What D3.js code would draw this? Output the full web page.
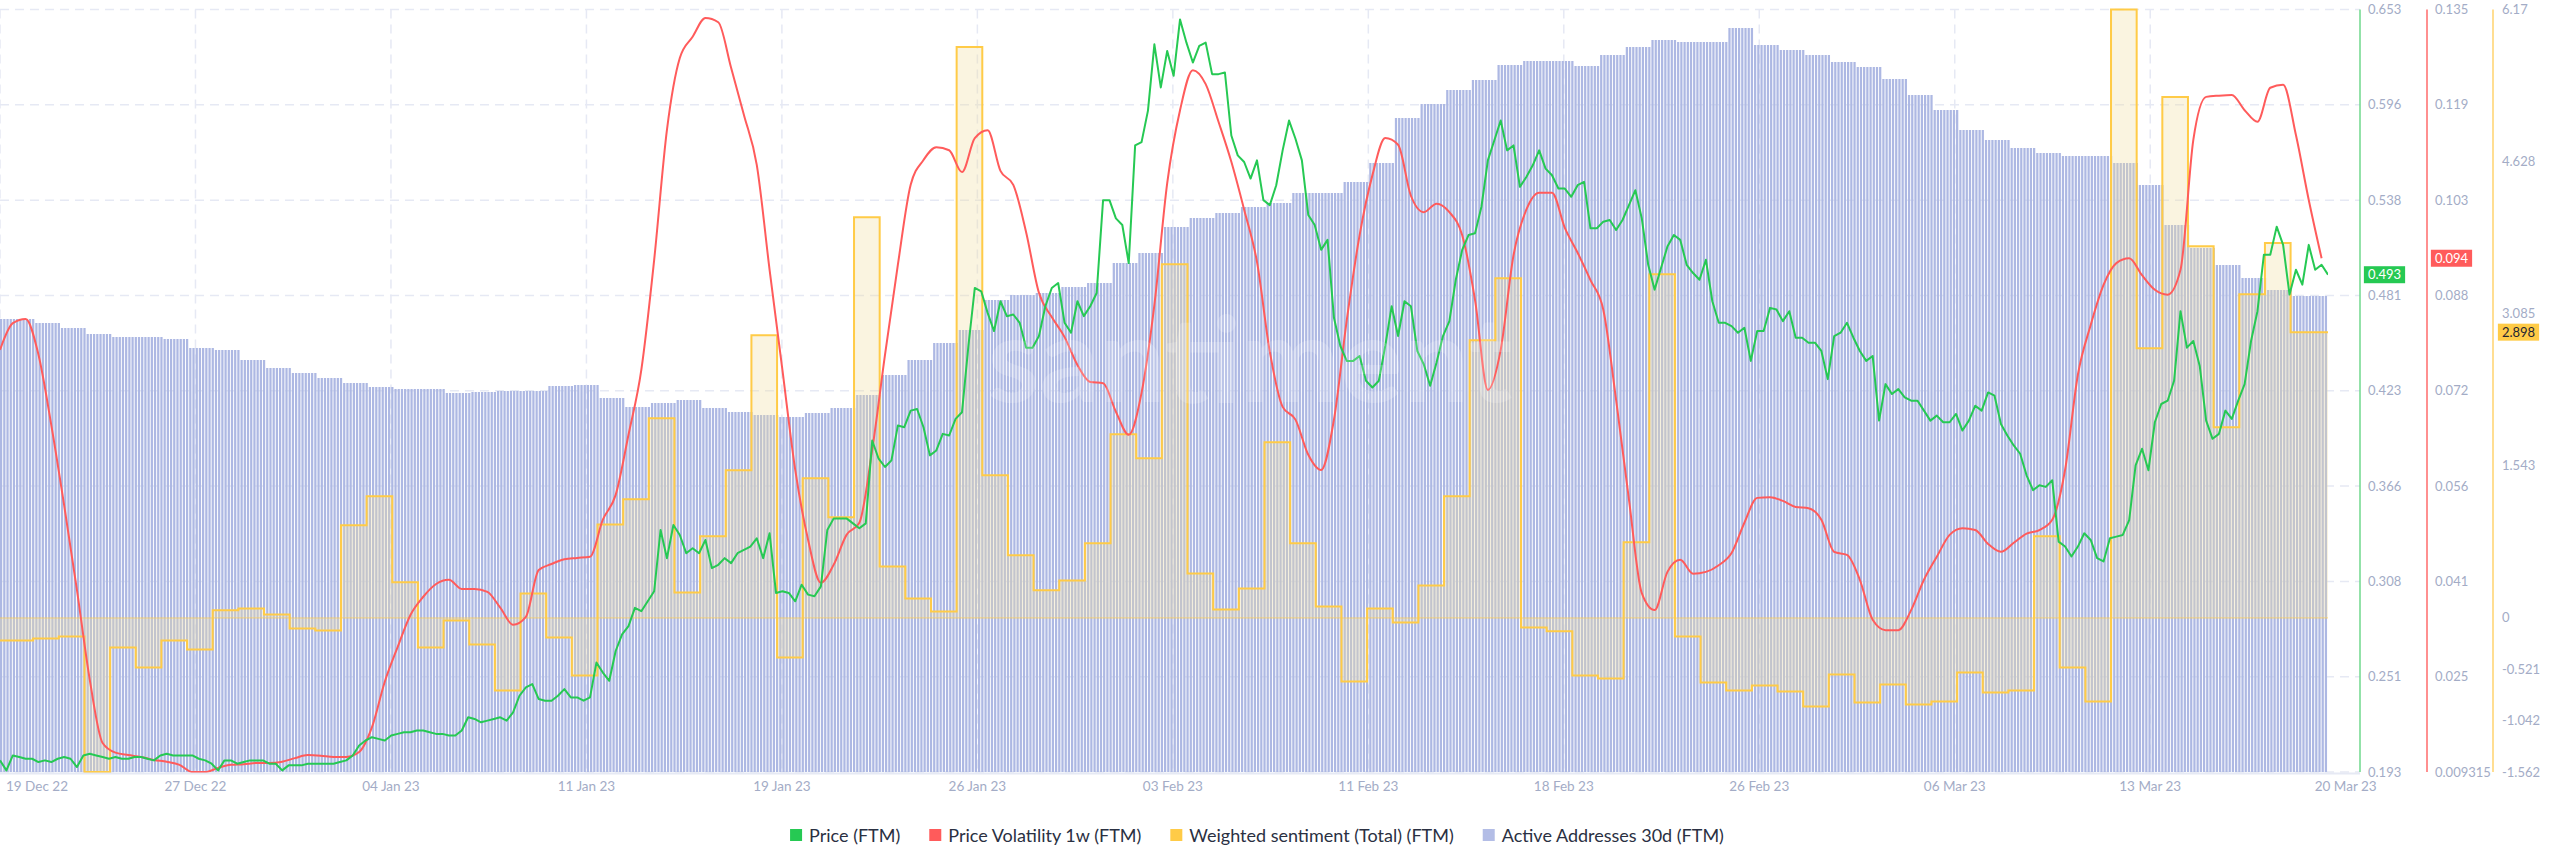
<!DOCTYPE html>
<html><head><meta charset="utf-8">
<script src="https://cdn.jsdelivr.net/npm/d3@7"></script>
<style>
html,body{margin:0;padding:0;background:#fff;}
svg{display:block;font-family:Lato,"Open Sans",sans-serif;}
</style></head><body>
<svg id="chart" width="2560" height="867"></svg>
<script>
// ---------------- DATA ----------------
const startTime = Date.UTC(2022, 11, 18, 17);   // first point of the 6h price series
const firstDay = Date.UTC(2022, 11, 18);         // first day of the daily series
const HOUR = 3600 * 1000, DAY = 24 * HOUR;
const priceStepHours = 6;
const volStepHours = 12;
const barStepHours = 3;
const labelStepDays = 7.62;

const xTickLabels = ["19 Dec 22","27 Dec 22","04 Jan 23","11 Jan 23","19 Jan 23","26 Jan 23","03 Feb 23",
  "11 Feb 23","18 Feb 23","26 Feb 23","06 Mar 23","13 Mar 23","20 Mar 23"];

const priceValues = [
0.200,0.194,0.203,0.202,0.201,0.201,0.199,0.200,0.199,0.201,
0.202,0.201,0.196,0.203,0.204,0.203,0.202,0.201,0.202,0.201,
0.201,0.202,0.202,0.201,0.200,0.203,0.204,0.203,0.203,0.203,
0.203,0.201,0.200,0.198,0.194,0.200,0.200,0.198,0.199,0.200,
0.200,0.200,0.198,0.198,0.194,0.197,0.197,0.197,0.198,0.198,
0.198,0.198,0.198,0.199,0.200,0.203,0.209,0.212,0.214,0.213,
0.212,0.215,0.216,0.217,0.217,0.218,0.218,0.217,0.216,0.216,
0.215,0.215,0.218,0.226,0.225,0.223,0.224,0.225,0.226,0.224,
0.229,0.239,0.244,0.246,0.237,0.236,0.236,0.239,0.243,0.238,
0.238,0.236,0.238,0.259,0.253,0.248,0.266,0.276,0.281,0.292,
0.290,0.296,
0.302,0.339,0.322,0.342,0.336,0.325,0.328,0.325,0.333,
0.316,0.318,0.322,0.319,0.325,0.327,0.329,0.334,0.322,0.337,
0.301,0.302,0.301,0.296,0.306,0.300,0.299,0.305,0.339,0.346,
0.346,0.346,0.343,0.340,0.343,0.393,0.382,0.377,0.381,0.402,
0.401,0.411,0.412,0.401,0.384,0.387,0.397,0.396,0.406,0.410,
0.450,0.485,0.483,0.470,0.459,0.477,0.468,0.469,0.464,0.449,
0.449,0.456,0.474,0.485,0.488,0.464,0.458,0.477,0.468,0.474,
0.482,0.538,0.538,0.527,0.523,0.500,0.571,0.573,0.592,0.632,
0.606,0.628,0.613,0.647,0.633,0.621,0.631,0.633,0.614,0.614,
0.615,0.577,0.565,0.561,0.551,0.562,0.538,0.535,0.547,0.568,
0.586,0.575,0.562,0.529,0.523,0.508,0.514,0.467,0.450,0.441,
0.441,0.444,0.429,0.425,0.429,0.450,0.474,0.456,0.477,0.474,
0.447,0.439,0.426,0.440,0.456,0.465,0.490,0.508,0.517,0.518,
0.534,0.562,0.574,0.586,0.568,0.571,0.546,0.552,0.559,0.568,
0.557,0.553,0.545,0.545,0.540,0.547,0.549,0.521,0.521,0.525,
0.526,0.520,0.526,0.535,0.544,0.527,0.499,0.484,0.497,0.510,
0.517,0.514,0.499,0.494,0.490,0.502,0.477,0.464,0.464,0.462,
0.458,0.461,0.441,0.459,0.459,0.473,0.472,0.465,0.471,0.455,
0.455,0.452,0.452,0.447,0.430,0.456,0.458,0.464,0.455,0.447,
0.441,0.444,0.405,0.427,0.421,0.424,0.419,0.417,0.417,0.411,
0.405,0.408,
0.404,0.404,0.409,0.399,0.405,0.414,0.411,0.422,0.420,
0.403,0.396,0.390,0.385,0.372,0.363,0.366,0.365,0.369,0.332,
0.329,0.323,0.329,0.337,0.333,0.322,0.320,0.334,0.335,0.336,
0.345,0.378,0.388,0.375,0.404,0.415,0.417,0.429,0.471,0.449,
0.453,0.438,0.405,0.394,0.397,0.411,0.406,0.417,0.427,0.453,
0.471,0.505,0.505,0.522,0.511,0.481,0.496,0.487,0.511,0.496,
0.499,0.493];

const volatilityValues = [
0.0789,0.0833,0.0840,0.0781,0.0665,0.0533,0.0393,0.0245,0.0141,0.0125,
0.0121,0.0118,0.0113,0.0110,0.0105,0.0093,0.0093,0.0100,0.0105,0.0106,
0.0108,0.0108,0.0110,0.0116,0.0121,0.0120,0.0118,0.0118,0.0126,0.0167,
0.0242,0.0299,0.0352,0.0382,0.0403,0.0410,0.0395,0.0395,0.0390,0.0364,
0.0336,0.0349,0.0426,0.0436,0.0444,0.0446,0.0448,0.0509,0.0550,0.0649,
0.0756,0.0937,0.1152,0.1270,0.1305,0.1336,0.1329,0.1254,0.1176,0.1094,
0.0921,0.0756,0.0591,0.0476,0.0405,0.0435,0.0484,0.0504,0.0624,0.0781,
0.0929,0.1061,0.1102,0.1123,0.1118,0.1082,0.1138,0.1151,0.1084,0.1061,
0.0983,0.0883,0.0843,0.0810,0.0764,0.0736,0.0734,0.0687,0.0649,0.0718,
0.0863,0.1064,0.1184,0.1250,0.1227,0.1165,0.1099,0.1020,0.0934,0.0786,
0.0695,
0.0674,0.0616,0.0591,0.0674,0.0838,0.0978,0.1077,0.1138,0.1127,0.1043,
0.1016,0.1030,0.1016,0.0978,0.0871,0.0723,0.0789,0.0945,0.1020,0.1048,
0.1048,0.0990,0.0949,0.0904,0.0855,0.0706,0.0542,0.0388,0.0360,0.0423,
0.0443,0.0420,0.0423,0.0434,0.0454,0.0504,0.0545,0.0546,0.0540,0.0530,
0.0528,0.0509,0.0456,0.0451,0.0410,0.0344,0.0327,0.0327,0.0360,0.0410,
0.0448,0.0484,0.0495,0.0492,0.0469,0.0456,0.0471,0.0486,0.0492,0.0509,
0.0591,0.0748,0.0830,0.0896,0.0932,0.0940,0.0912,0.0888,0.0880,0.0921,
0.1135,0.1206,0.1208,0.1209,0.1184,0.1165,0.1221,0.1226,0.1143,0.1036,0.094];

// daily, from 18 Dec 2022 to 20 Mar 2023
const sentimentValues = [
-0.228,-0.228,-0.207,-0.187,-1.562,-0.299,-0.502,-0.228,-0.319,0.077,
0.097,0.036,-0.106,-0.126,0.939,1.233,0.361,-0.299,-0.025,-0.268,
-0.735,0.249,-0.197,-0.583,0.949,1.203,2.025,0.259,0.828,1.497,
2.867,-0.400,1.416,1.020,4.064,0.523,0.198,0.066,5.789,1.447,
0.635,0.280,0.381,0.757,1.862,1.619,3.588,0.452,0.087,0.300,
1.781,0.757,0.117,-0.644,0.097,-0.045,0.330,1.233,2.816,3.445,
-0.096,-0.136,-0.583,-0.613,0.767,3.486,-0.187,-0.654,-0.735,-0.684,
-0.745,-0.898,-0.573,-0.857,-0.674,-0.877,-0.847,-0.553,-0.755,-0.735,
0.828,-0.502,-0.847,6.17,2.735,5.282,3.770,1.934,3.283,3.801,
2.898,2.898];

// daily, from 18 Dec 2022 to 20 Mar 2023
const activeAddressesValues = [
90600,90600,89800,88800,87600,87000,87000,86600,84800,84400,
82400,80800,79800,78800,77800,77000,76600,76600,75800,76000,
76200,76200,77200,77400,74800,73000,73800,74400,72800,72000,
71400,71000,71800,72800,75400,79400,82400,85800,88400,94400,
95400,95800,97000,97800,101800,103800,109000,110800,111800,113000,
113800,115800,115800,118000,121800,130800,133600,136400,138400,141400,
142200,142200,141200,143400,145000,146400,146000,146000,148800,145400,
144400,143400,142000,141000,138600,135400,132400,128400,126400,124800,
123800,123200,123200,121800,117400,109400,104800,101400,98800,96400,
95200,95200];

const priceTickLabels = ["0.193","0.251","0.308","0.366","0.423","0.481","0.538","0.596","0.653"];
const volTickLabels = ["0.009315","0.025","0.041","0.056","0.072","0.088","0.103","0.119","0.135"];
const sentimentTicks = [-1.562,-1.042,-0.521,0,1.543,3.085,4.628,6.17];
const sentimentTickLabels = ["-1.562","-1.042","-0.521","0","1.543","3.085","4.628","6.17"];

const seriesNames = ["Price (FTM)","Price Volatility 1w (FTM)","Weighted sentiment (Total) (FTM)","Active Addresses 30d (FTM)"];
const seriesColors = ["#26c953","#ff5b5b","#ffcb47","#b3bde6"];

// ---------------- LAYOUT ----------------
const plotTop = 9.5, plotBottom = 772;
const plotRight = 2328;
const axisX = [2360, 2427, 2493];
const legendCenter = 1257;
const svg = d3.select("#chart");

const endTime = startTime + (priceValues.length - 1) * priceStepHours * HOUR;
const x = d3.scaleLinear().domain([startTime, endTime]).range([0, plotRight]);
const yPrice = d3.scaleLinear().domain([0.193, 0.653]).range([plotBottom, plotTop]);
const yVol = d3.scaleLinear().domain([0.009315, 0.135]).range([plotBottom, plotTop]);
const ySent = d3.scaleLinear().domain([-1.562, 6.17]).range([plotBottom, plotTop]);
const yAddr = d3.scaleLinear().domain([0, 152500]).range([plotBottom, plotTop]);

const priceData = priceValues.map((v, i) => ({t: startTime + i * priceStepHours * HOUR, v}));
const volData = volatilityValues.map((v, i) => ({t: startTime + i * volStepHours * HOUR, v}));
const sentData = sentimentValues.map((v, i) => ({t: firstDay + i * DAY, v}));
sentData.push({t: endTime, v: sentimentValues[sentimentValues.length - 1]});
const nBars = Math.floor((endTime - startTime) / (barStepHours * HOUR)) + 1;
const barData = d3.range(nBars).map(b => {
  const t = startTime + b * barStepHours * HOUR;
  const di = Math.min(activeAddressesValues.length - 1, Math.floor((t - firstDay) / DAY));
  return {t, v: activeAddressesValues[di]};
});

svg.append("defs").append("clipPath").attr("id", "plotclip")
  .append("rect").attr("x", 0).attr("y", 0).attr("width", plotRight).attr("height", plotBottom + 1);

// grid
const grid = svg.append("g");
const gridTicks = d3.range(9).map(i => 0.193 + i * (0.653 - 0.193) / 8);
grid.selectAll("line.h").data(gridTicks).join("line")
  .attr("x1", 0).attr("x2", axisX[0]).attr("y1", d => yPrice(d)).attr("y2", d => yPrice(d))
  .attr("stroke", "#e6e9f4").attr("stroke-width", 1.5).attr("stroke-dasharray", "9,6");
const labelTimes = xTickLabels.map((_, k) => startTime + k * labelStepDays * DAY);
grid.selectAll("line.v").data(labelTimes.slice(0, 12)).join("line")
  .attr("x1", d => x(d)).attr("x2", d => x(d)).attr("y1", plotTop).attr("y2", plotBottom)
  .attr("stroke", "#e6e9f4").attr("stroke-width", 1.5).attr("stroke-dasharray", "9,6");

const plot = svg.append("g").attr("clip-path", "url(#plotclip)");

// bars
const barW = (x(startTime + barStepHours * HOUR) - x(startTime)) * 0.7;
plot.append("g").selectAll("rect").data(barData).join("rect")
  .attr("x", d => x(d.t)).attr("y", d => yAddr(d.v))
  .attr("width", barW).attr("height", d => plotBottom - yAddr(d.v))
  .attr("fill", "#adb8e3");

// sentiment
plot.append("path").datum(sentData)
  .attr("d", d3.area().curve(d3.curveStepAfter).x(d => x(d.t)).y0(ySent(0)).y1(d => ySent(d.v)))
  .attr("fill", "rgba(240,220,160,0.32)");
plot.append("line").attr("x1", 0).attr("x2", plotRight).attr("y1", ySent(0)).attr("y2", ySent(0))
  .attr("stroke", "#ffcb47").attr("stroke-opacity", 0.7).attr("stroke-width", 1);
plot.append("path").datum(sentData)
  .attr("d", d3.line().curve(d3.curveStepAfter).x(d => x(d.t)).y(d => ySent(d.v)))
  .attr("fill", "none").attr("stroke", "#ffcb47").attr("stroke-width", 2);

// volatility
plot.append("path").datum(volData)
  .attr("d", d3.line().curve(d3.curveMonotoneX).x(d => x(d.t)).y(d => yVol(d.v)))
  .attr("fill", "none").attr("stroke", "#ff5b5b").attr("stroke-width", 2);

// price
plot.append("path").datum(priceData)
  .attr("d", d3.line().x(d => x(d.t)).y(d => yPrice(d.v)))
  .attr("fill", "none").attr("stroke", "#26c953").attr("stroke-width", 2).attr("stroke-linejoin", "round");

// watermark
svg.append("text").attr("x", 1250).attr("y", 402).attr("text-anchor", "middle")
  .attr("font-size", 118).attr("font-weight", 700).attr("fill", "#ffffff").attr("fill-opacity", 0.18)
  .text("santiment");

// bottom axis line
svg.append("line").attr("x1", 0).attr("x2", axisX[0]).attr("y1", plotBottom + 1.5).attr("y2", plotBottom + 1.5)
  .attr("stroke", "#e6e9f4").attr("stroke-width", 2);

// x labels
svg.append("g").selectAll("text").data(xTickLabels).join("text")
  .attr("x", (d, k) => k === 0 ? 6 : x(labelTimes[k]))
  .attr("y", 791)
  .attr("text-anchor", (d, k) => k === 0 ? "start" : "middle")
  .attr("font-size", 13.5).attr("fill", "#a3acc6").text(d => d);

// right axes
const axisColors = ["#6fd88c", "#ff6b6b", "#ffd36e"];
axisX.forEach((ax, i) => {
  svg.append("line").attr("x1", ax).attr("x2", ax).attr("y1", plotTop).attr("y2", plotBottom)
    .attr("stroke", axisColors[i]).attr("stroke-width", 1.5);
});
const axisLabel = (g, xs, ys, txt) => g.append("text").attr("x", xs).attr("y", ys + 4.5)
  .attr("font-size", 13).attr("fill", "#a3acc6").text(txt);
const ga = svg.append("g");
priceTickLabels.forEach((t, i) => axisLabel(ga, axisX[0] + 8, yPrice(0.193 + i * (0.653 - 0.193) / 8), t));
volTickLabels.forEach((t, i) => axisLabel(ga, axisX[1] + 8, yVol(0.009315 + i * (0.135 - 0.009315) / 8), t));
sentimentTicks.forEach((v, i) => axisLabel(ga, axisX[2] + 9, ySent(v), sentimentTickLabels[i]));

// last-value badges
function badge(ax, yv, txt, fill, color) {
  const g = svg.append("g");
  const t = g.append("text").attr("x", ax + 24.5).attr("y", yv + 4.5).attr("text-anchor", "middle")
    .attr("font-size", 13).attr("fill", color).text(txt);
  const w = t.node().getComputedTextLength() + 8;
  g.insert("rect", "text").attr("x", ax + 24.5 - w / 2).attr("y", yv - 8.5).attr("width", w).attr("height", 17)
    .attr("fill", fill);
}
const lastP = priceValues[priceValues.length - 1];
const lastV = volatilityValues[volatilityValues.length - 1];
const lastS = sentimentValues[sentimentValues.length - 1];
badge(axisX[0], yPrice(lastP), lastP.toFixed(3), "#26c953", "#ffffff");
badge(axisX[1], yVol(lastV), lastV.toFixed(3), "#ff5b5b", "#ffffff");
badge(axisX[2] + 1, ySent(lastS), lastS.toFixed(3), "#ffcb47", "#1f2533");

// legend
const leg = svg.append("g");
let lx = 0;
seriesNames.forEach((name, i) => {
  const g = leg.append("g").attr("transform", `translate(${lx},0)`);
  g.append("rect").attr("x", 0).attr("y", 829).attr("width", 12).attr("height", 12).attr("fill", seriesColors[i]);
  const t = g.append("text").attr("x", 19).attr("y", 841.5).attr("font-size", 18).attr("fill", "#2a3042").text(name);
  const w = 19 + t.node().getComputedTextLength();
  lx += w + 29;
});
const legW = lx - 29;
leg.attr("transform", `translate(${legendCenter - legW / 2},0)`);
</script>
</body></html>
